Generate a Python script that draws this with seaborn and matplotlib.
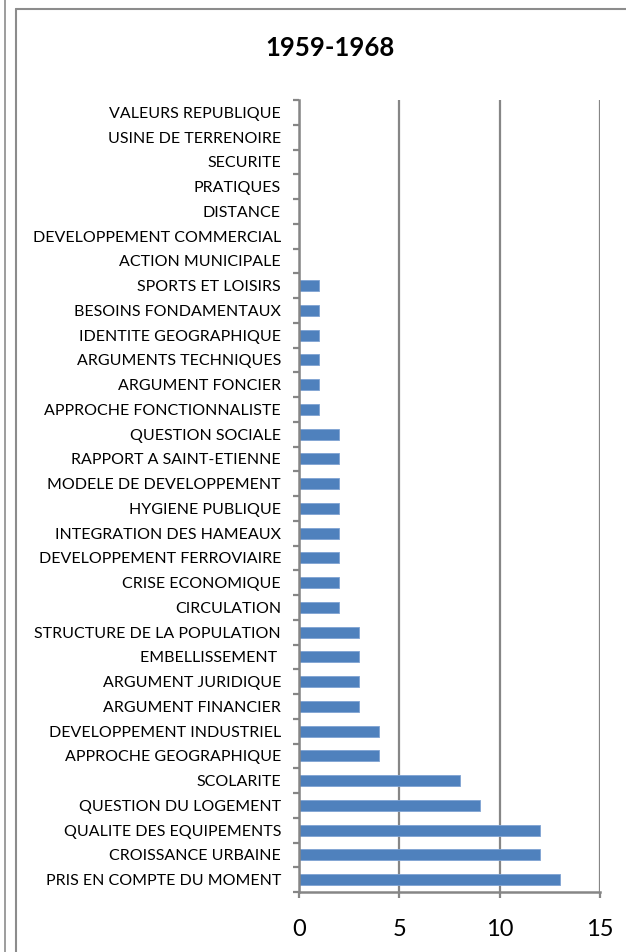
import matplotlib
matplotlib.use("Agg")
import matplotlib.pyplot as plt
from matplotlib.lines import Line2D
from matplotlib.ticker import FixedLocator, NullFormatter
import numpy as np
import pandas as pd
import seaborn as sns

# Themes, listed from top to bottom of the chart
themes = [
    "VALEURS REPUBLIQUE", "USINE DE TERRENOIRE", "SECURITE", "PRATIQUES",
    "DISTANCE", "DEVELOPPEMENT COMMERCIAL", "ACTION MUNICIPALE",
    "SPORTS ET LOISIRS", "BESOINS FONDAMENTAUX", "IDENTITE GEOGRAPHIQUE",
    "ARGUMENTS TECHNIQUES", "ARGUMENT FONCIER", "APPROCHE FONCTIONNALISTE",
    "QUESTION SOCIALE", "RAPPORT A SAINT-ETIENNE", "MODELE DE DEVELOPPEMENT",
    "HYGIENE PUBLIQUE", "INTEGRATION DES HAMEAUX", "DEVELOPPEMENT FERROVIAIRE",
    "CRISE ECONOMIQUE", "CIRCULATION", "STRUCTURE DE LA POPULATION",
    "EMBELLISSEMENT ", "ARGUMENT JURIDIQUE", "ARGUMENT FINANCIER",
    "DEVELOPPEMENT INDUSTRIEL", "APPROCHE GEOGRAPHIQUE", "SCOLARITE",
    "QUESTION DU LOGEMENT", "QUALITE DES EQUIPEMENTS", "CROISSANCE URBAINE",
    "PRIS EN COMPTE DU MOMENT",
]
counts = [
    0, 0, 0, 0,
    0, 0, 0,
    1, 1, 1,
    1, 1, 1,
    2, 2, 2,
    2, 2, 2,
    2, 2, 3,
    3, 3, 3,
    4, 4, 8,
    9, 12, 12,
    13,
]
x_ticks = [0, 5, 10, 15]
title = "1959-1968"

df = pd.DataFrame({"theme": themes, "count": counts})

sns.set_theme(style="white")
plt.rcParams["font.family"] = ["Lato", "DejaVu Sans"]

W, H = 626, 952
fig = plt.figure(figsize=(W / 100, H / 100), dpi=100)
ax = fig.add_axes([299 / W, 1 - 892 / H, (600 - 299) / W, (892 - 100) / H])

bar_blue = "#4F81BD"
grey = "#868686"

sns.barplot(data=df, x="count", y="theme", orient="h", order=themes,
            color=bar_blue, saturation=1, width=0.45,
            edgecolor="#7FA3D3", linewidth=0.6, ax=ax, zorder=3)

n = len(themes)
ax.set_xlim(0, 15)
ax.set_ylim(n - 0.5, -0.5)
ax.set_xticks(x_ticks)
ax.set_xticklabels([str(t) for t in x_ticks], fontsize=17, color="black")
ax.set_xlabel("")
ax.set_ylabel("")

# vertical gridlines
ax.xaxis.grid(True, color=grey, linewidth=1.6, zorder=0)
ax.yaxis.grid(False)

# category labels on major ticks, tick marks at category boundaries
ax.tick_params(axis="y", which="major", length=0, pad=13,
               labelsize=11.5, labelcolor="black")
ax.yaxis.set_minor_locator(FixedLocator(np.arange(-0.5, n, 1.0)))
ax.yaxis.set_minor_formatter(NullFormatter())
ax.tick_params(axis="y", which="minor", left=True, length=4,
               width=1.6, color=grey, direction="out")
ax.tick_params(axis="x", which="major", bottom=True, length=4.5,
               width=1.6, color=grey, direction="out", pad=15)

for side in ("top", "right"):
    ax.spines[side].set_visible(False)
for side in ("left", "bottom"):
    ax.spines[side].set_color(grey)
    ax.spines[side].set_linewidth(1.8)
    ax.spines[side].set_zorder(4)

fig.text(330 / W, 1 - 48 / H, title, ha="center", va="center",
         fontsize=18.5, fontweight="bold", color="black")

# surrounding frame lines
frame_grey = "#8C8C8C"
fig.add_artist(Line2D([4.5 / W, 4.5 / W], [0, 1], transform=fig.transFigure,
                      color=frame_grey, linewidth=1.2))
fig.add_artist(Line2D([16 / W, 16 / W], [0, 1 - 9 / H], transform=fig.transFigure,
                      color=frame_grey, linewidth=1.5))
fig.add_artist(Line2D([16 / W, 1], [1 - 9 / H, 1 - 9 / H], transform=fig.transFigure,
                      color=frame_grey, linewidth=1.5))

fig.savefig("out.png", dpi=100)
